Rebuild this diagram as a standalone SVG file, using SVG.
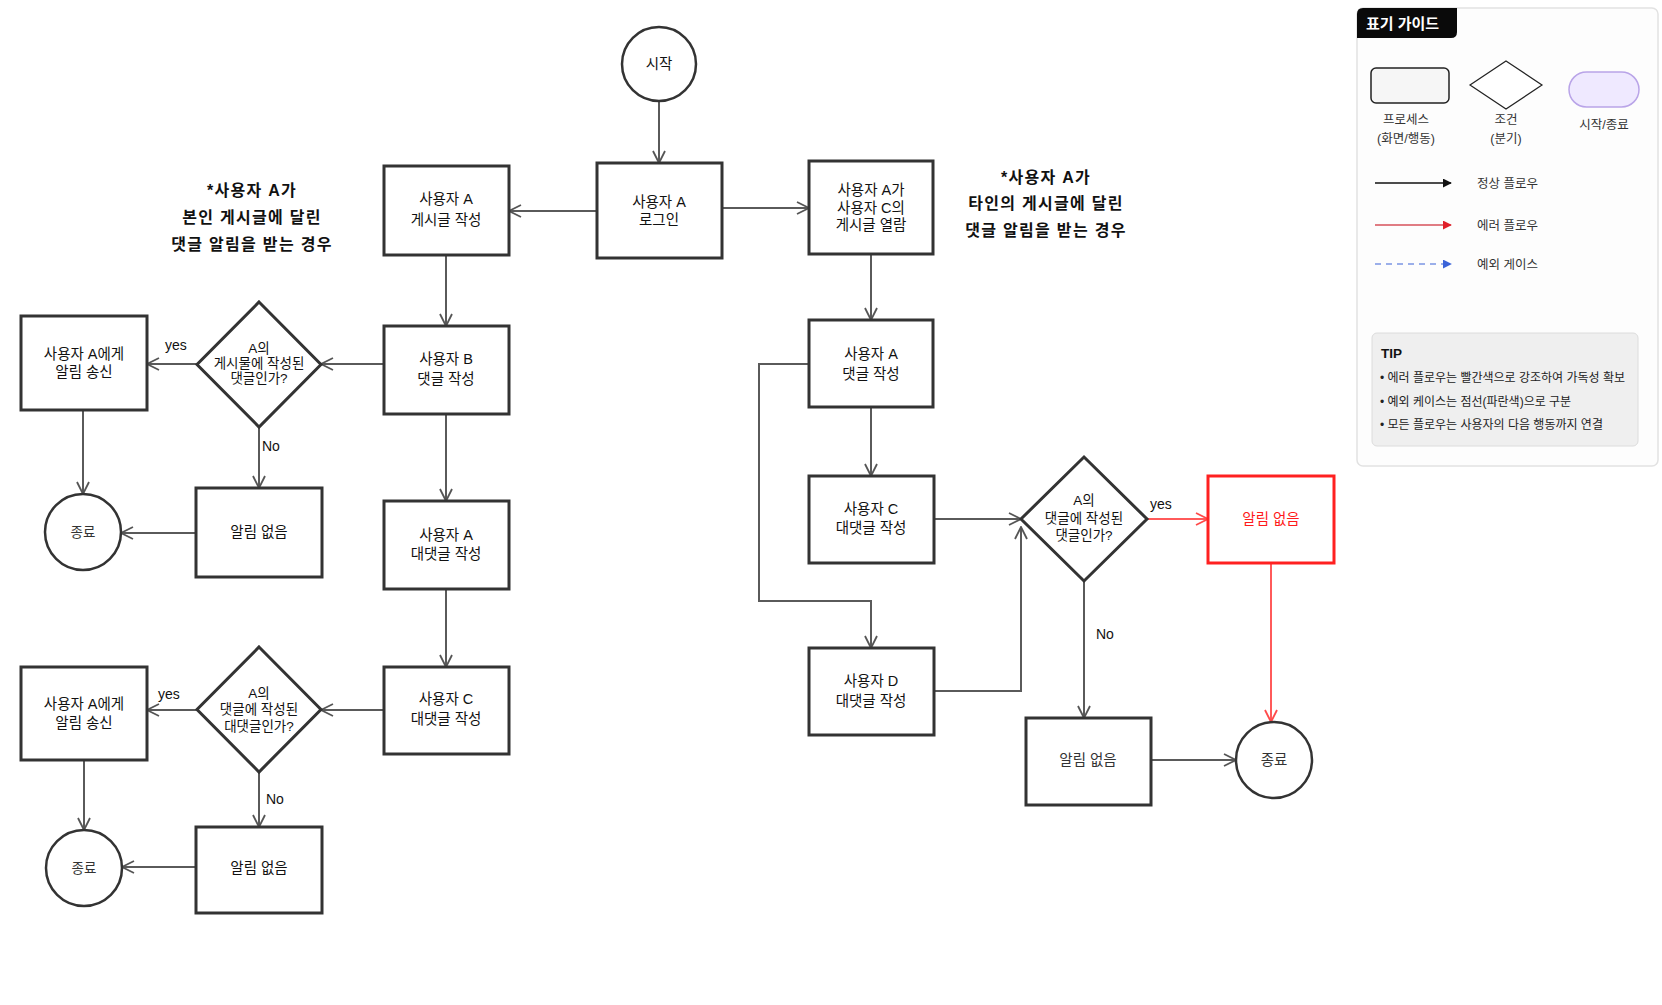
<svg xmlns="http://www.w3.org/2000/svg" width="1662" height="1005" viewBox="0 0 1662 1005">
<style>
text{font-family:"Liberation Sans","Noto Sans CJK KR",sans-serif;fill:#111;}
.t{font-size:14.5px;text-anchor:middle;}
.d{font-size:13.5px;text-anchor:middle;}
.c{font-size:13.5px;text-anchor:middle;fill:#333;}
.h{font-size:16px;font-weight:bold;text-anchor:middle;letter-spacing:1.3px;}
.lbl{font-size:14px;}
.box{fill:#fff;stroke:#333;stroke-width:3;}
.red{fill:#fff;stroke:#ff2020;stroke-width:3;}
.circ{fill:#fff;stroke:#333;stroke-width:2.5;}
.e{fill:none;stroke:#5a5a5a;stroke-width:2;marker-end:url(#ah);}
.er{fill:none;stroke:#ff5a5a;stroke-width:2;marker-end:url(#ahr);}
.lg{font-size:12.5px;fill:#333;}
.tip{font-size:12px;fill:#222;}
</style>
<defs>
<marker id="ah" viewBox="0 0 14 14" refX="13" refY="7" markerWidth="14" markerHeight="14" markerUnits="userSpaceOnUse" orient="auto"><path d="M1,1 L13,7 L1,13" fill="none" stroke="#555" stroke-width="1.8"/></marker>
<marker id="ahr" viewBox="0 0 14 14" refX="13" refY="7" markerWidth="14" markerHeight="14" markerUnits="userSpaceOnUse" orient="auto"><path d="M1,1 L13,7 L1,13" fill="none" stroke="#ff4a4a" stroke-width="1.8"/></marker>
<marker id="tk" viewBox="0 0 10 10" refX="9" refY="5" markerWidth="9" markerHeight="9" markerUnits="userSpaceOnUse" orient="auto"><path d="M0,0 L10,5 L0,10 Z" fill="#111"/></marker>
<marker id="tr" viewBox="0 0 10 10" refX="9" refY="5" markerWidth="9" markerHeight="9" markerUnits="userSpaceOnUse" orient="auto"><path d="M0,0 L10,5 L0,10 Z" fill="#e0202a"/></marker>
<marker id="tb" viewBox="0 0 10 10" refX="9" refY="5" markerWidth="9" markerHeight="9" markerUnits="userSpaceOnUse" orient="auto"><path d="M0,0 L10,5 L0,10 Z" fill="#3b63d8"/></marker>
</defs>
<rect width="1662" height="1005" fill="#fff"/>

<g id="note-left">
<text class="h" x="252" y="196">*사용자 A가</text>
<text class="h" x="252" y="223">본인 게시글에 달린</text>
<text class="h" x="252" y="250">댓글 알림을 받는 경우</text>
</g>
<g id="note-right">
<text class="h" x="1046" y="183">*사용자 A가</text>
<text class="h" x="1046" y="209">타인의 게시글에 달린</text>
<text class="h" x="1046" y="236">댓글 알림을 받는 경우</text>
</g>

<g id="connectors">
<path class="e" d="M659,101 L659,163"/>
<path class="e" d="M597,211 L509,211"/>
<path class="e" d="M722,208 L809,208"/>
<path class="e" d="M446,255 L446,326"/>
<path class="e" d="M384,364 L321,364"/>
<path class="e" d="M197,364 L147,364"/>
<path class="e" d="M83,410 L83,494"/>
<path class="e" d="M259,427 L259,488"/>
<path class="e" d="M196,533 L121,533"/>
<path class="e" d="M446,414 L446,501"/>
<path class="e" d="M446,589 L446,667"/>
<path class="e" d="M384,710 L321,710"/>
<path class="e" d="M197,710 L147,710"/>
<path class="e" d="M84,760 L84,830"/>
<path class="e" d="M259,772 L259,827"/>
<path class="e" d="M196,867 L122,867"/>
<path class="e" d="M871,254 L871,320"/>
<path class="e" d="M871,407 L871,476"/>
<path class="e" d="M809,364 L759,364 L759,601 L871,601 L871,648"/>
<path class="e" d="M934,519 L1021,519"/>
<path class="e" d="M934,691 L1021,691 L1021,527"/>
<path class="er" d="M1147,519 L1208,519"/>
<path class="er" d="M1271,563 L1271,722"/>
<path class="e" d="M1084,581 L1084,718"/>
<path class="e" d="M1151,760 L1236,760"/>
<text class="lbl" x="165" y="350">yes</text>
<text class="lbl" x="262" y="451">No</text>
<text class="lbl" x="158" y="699">yes</text>
<text class="lbl" x="266" y="804">No</text>
<text class="lbl" x="1150" y="509">yes</text>
<text class="lbl" x="1096" y="639">No</text>
</g>

<g id="start"><circle class="circ" cx="659" cy="64" r="37"/><text class="t" x="659" y="69">시작</text></g>
<g id="login"><rect class="box" x="597" y="163" width="125" height="95"/><text class="t" x="659" y="207">사용자 A</text><text class="t" x="659" y="225">로그인</text></g>
<g id="a-post"><rect class="box" x="384" y="166" width="125" height="89"/><text class="t" x="446" y="204">사용자 A</text><text class="t" x="446" y="225">게시글 작성</text></g>
<g id="b-comment"><rect class="box" x="384" y="326" width="125" height="88"/><text class="t" x="446" y="364">사용자 B</text><text class="t" x="446" y="384">댓글 작성</text></g>
<g id="dec1"><path class="box" d="M259,302 L321,364.5 L259,427 L197,364.5 Z"/><text class="d" x="259" y="353">A의</text><text class="d" x="259" y="368">게시물에 작성된</text><text class="d" x="259" y="383">댓글인가?</text></g>
<g id="notify1"><rect class="box" x="21" y="316" width="126" height="94"/><text class="t" x="84" y="359">사용자 A에게</text><text class="t" x="84" y="377">알림 송신</text></g>
<g id="end1"><circle class="circ" cx="83" cy="532" r="38"/><text class="c" x="83" y="537">종료</text></g>
<g id="none1"><rect class="box" x="196" y="488" width="126" height="89"/><text class="t" x="259" y="537">알림 없음</text></g>
<g id="a-reply"><rect class="box" x="384" y="501" width="125" height="88"/><text class="t" x="446" y="540">사용자 A</text><text class="t" x="446" y="559">대댓글 작성</text></g>
<g id="c-reply-left"><rect class="box" x="384" y="667" width="125" height="87"/><text class="t" x="446" y="704">사용자 C</text><text class="t" x="446" y="724">대댓글 작성</text></g>
<g id="dec2"><path class="box" d="M259,647 L321,709.5 L259,772 L197,709.5 Z"/><text class="d" x="259" y="698">A의</text><text class="d" x="259" y="714">댓글에 작성된</text><text class="d" x="259" y="731">대댓글인가?</text></g>
<g id="notify2"><rect class="box" x="21" y="667" width="126" height="93"/><text class="t" x="84" y="709">사용자 A에게</text><text class="t" x="84" y="728">알림 송신</text></g>
<g id="end2"><circle class="circ" cx="84" cy="868" r="38"/><text class="c" x="84" y="873">종료</text></g>
<g id="none2"><rect class="box" x="196" y="827" width="126" height="86"/><text class="t" x="259" y="873">알림 없음</text></g>

<g id="view-c"><rect class="box" x="809" y="161" width="124" height="93"/><text class="t" x="871" y="195">사용자 A가</text><text class="t" x="871" y="213">사용자 C의</text><text class="t" x="871" y="230">게시글 열람</text></g>
<g id="a-comment"><rect class="box" x="809" y="320" width="124" height="87"/><text class="t" x="871" y="359">사용자 A</text><text class="t" x="871" y="379">댓글 작성</text></g>
<g id="c-reply"><rect class="box" x="809" y="476" width="125" height="87"/><text class="t" x="871" y="514">사용자 C</text><text class="t" x="871" y="533">대댓글 작성</text></g>
<g id="d-reply"><rect class="box" x="809" y="648" width="125" height="87"/><text class="t" x="871" y="686">사용자 D</text><text class="t" x="871" y="706">대댓글 작성</text></g>
<g id="dec3"><path class="box" d="M1084,457 L1147,519 L1084,581 L1021,519 Z"/><text class="d" x="1084" y="505">A의</text><text class="d" x="1084" y="523">댓글에 작성된</text><text class="d" x="1084" y="540">댓글인가?</text></g>
<g id="none-red"><rect class="red" x="1208" y="476" width="126" height="87"/><text class="t" x="1271" y="524" style="fill:#ff1a1a">알림 없음</text></g>
<g id="none3"><rect class="box" x="1026" y="718" width="125" height="87"/><text class="t" x="1088" y="765" style="fill:#333">알림 없음</text></g>
<g id="end3"><circle class="circ" cx="1274" cy="760" r="38"/><text class="t" x="1274" y="765" style="fill:#333">종료</text></g>

<g id="legend">
<rect x="1357" y="8" width="301" height="458" rx="6" fill="#fdfdfd" stroke="#e2e2e2" stroke-width="1.5"/>
<path d="M1357,14 Q1357,8 1363,8 L1457,8 L1457,32 Q1457,38 1451,38 L1357,38 Z" fill="#0a0a0a"/>
<text x="1366" y="29" style="font-size:15px;font-weight:bold;fill:#fff">표기 가이드</text>
<rect x="1371" y="68" width="78" height="35" rx="5" fill="#f6f6f6" stroke="#222" stroke-width="1.5"/>
<path d="M1506,61 L1542,85 L1506,109 L1470,85 Z" fill="#fff" stroke="#222" stroke-width="1.2"/>
<rect x="1569" y="72" width="70" height="35" rx="17.5" fill="#efe9ff" stroke="#b9a4e8" stroke-width="1.5"/>
<text class="lg" x="1406" y="124" text-anchor="middle">프로세스</text>
<text class="lg" x="1406" y="143" text-anchor="middle">(화면/행동)</text>
<text class="lg" x="1506" y="124" text-anchor="middle">조건</text>
<text class="lg" x="1506" y="143" text-anchor="middle">(분기)</text>
<text class="lg" x="1604" y="129" text-anchor="middle">시작/종료</text>
<path d="M1375,183 L1451,183" stroke="#111" stroke-width="1.3" marker-end="url(#tk)"/>
<path d="M1375,225 L1451,225" stroke="#d6505a" stroke-width="1.6" marker-end="url(#tr)"/>
<path d="M1375,264 L1451,264" stroke="#3b63d8" stroke-width="1.2" stroke-dasharray="6,5" marker-end="url(#tb)"/>
<text class="lg" x="1477" y="188">정상 플로우</text>
<text class="lg" x="1477" y="230">에러 플로우</text>
<text class="lg" x="1477" y="269">예외 게이스</text>
<rect x="1372" y="333" width="266" height="113" rx="5" fill="#efefef" stroke="#dcdcdc" stroke-width="1"/>
<text x="1381" y="358" style="font-size:13.5px;font-weight:bold;fill:#111">TIP</text>
<text class="tip" x="1380" y="382">•  에러 플로우는 빨간색으로 강조하여 가독성 확보</text>
<text class="tip" x="1380" y="406">•  예외 케이스는 점선(파란색)으로 구분</text>
<text class="tip" x="1380" y="429">•  모든 플로우는 사용자의 다음 행동까지 연결</text>
</g>
</svg>
